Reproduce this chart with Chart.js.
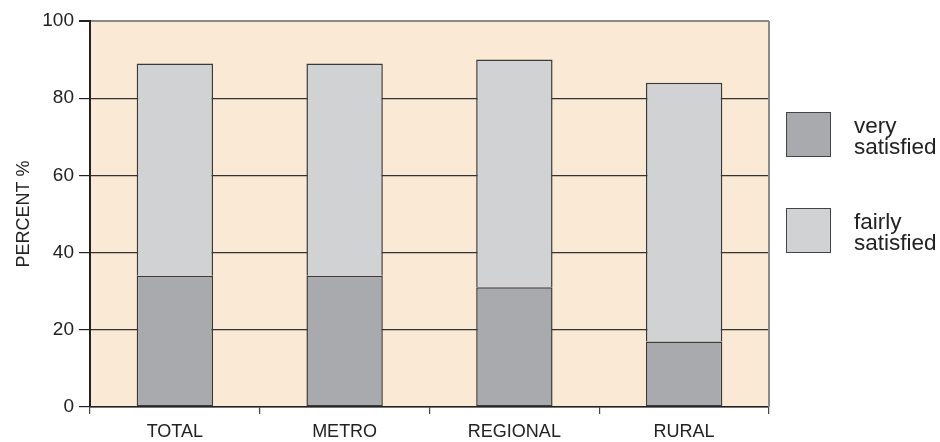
<!DOCTYPE html>
<html>
<head>
<meta charset="utf-8">
<script src="https://cdn.jsdelivr.net/npm/chart.js@4/dist/chart.umd.min.js"></script>
<style>
  html, body { margin: 0; padding: 0; background: #fff; }
  #wrap { position: relative; width: 940px; height: 442px; }
  #legend { position: absolute; left: 786px; top: 112px; font-family: "Liberation Sans", Arial, sans-serif; color: #222; }
  .item { position: absolute; left: 0; width: 160px; }
  .sw { position: absolute; left: 0; top: 0; width: 43px; height: 43px; border: 1.5px solid #444; }
  .txt { position: absolute; left: 68px; top: 3px; font-size: 22.5px; line-height: 21px; white-space: nowrap; }
</style>
</head>
<body>
<div id="wrap">
  <canvas id="chart" width="940" height="442"></canvas>
  <div id="legend"></div>
</div>
<script>
/// Categories along the x axis
const CATEGORIES = ["TOTAL", "METRO", "REGIONAL", "RURAL"];
/// Stacked series (percent)
const VERY_SATISFIED = [34, 34, 31, 17];
const FAIRLY_SATISFIED = [55, 55, 59, 67];
/// Series names, as shown in the legend
const SERIES_NAMES = [["very", "satisfied"], ["fairly", "satisfied"]];
/// Y tick range
const Y_MIN = 0, Y_MAX = 100, Y_STEP = 20;

const DARK = "#a9aaad";
const LIGHT = "#d1d2d4";
const PLOT_BG = "#f9e9d5";
const INK = "#222";

Chart.defaults.font.family = "'Liberation Sans', Arial, sans-serif";
Chart.defaults.color = INK;

// ── Plot background and frame ───────────────────────────────────────
const plotFrame = {
  id: "plotFrame",
  beforeDraw(chart) {
    const a = chart.chartArea, c = chart.ctx;
    c.save();
    c.fillStyle = PLOT_BG;
    c.fillRect(a.left, a.top, a.right - a.left, a.bottom - a.top);
    c.restore();
  },
  afterDraw(chart) {
    const a = chart.chartArea, c = chart.ctx;
    c.save();
    c.strokeStyle = "#8a8a8a";
    c.lineWidth = 2;
    c.beginPath();
    c.moveTo(a.right, a.top);
    c.lineTo(a.right, a.bottom);
    c.stroke();
    c.restore();
  }
};

const datasets = [
  { label: SERIES_NAMES[0].join(" "), data: VERY_SATISFIED, backgroundColor: DARK, borderSkipped: false },
  { label: SERIES_NAMES[1].join(" "), data: FAIRLY_SATISFIED, backgroundColor: LIGHT, borderSkipped: "start" }
].map(d => Object.assign(d, {
  borderColor: "#3a3a3a",
  borderWidth: 1.5,
  barPercentage: 0.45,
  categoryPercentage: 1
}));

new Chart(document.getElementById("chart"), {
  type: "bar",
  data: { labels: CATEGORIES, datasets },
  plugins: [plotFrame],
  options: {
    responsive: false,
    animation: false,
    layout: { padding: { top: 21, right: 171, left: 0, bottom: 0 } },
    plugins: { legend: { display: false }, tooltip: { enabled: false } },
    scales: {
      x: {
        stacked: true,
        afterFit: s => { s.height = 35; },
        grid: { offset: true, drawOnChartArea: false, tickLength: 7, color: "#444", lineWidth: 1.2 },
        border: { color: INK, width: 1.5 },
        ticks: { font: { size: 18 }, color: INK, padding: 7, maxRotation: 0 }
      },
      y: {
        stacked: true,
        min: Y_MIN, max: Y_MAX,
        afterFit: s => { s.width = 90; },
        grid: {
          color: ctx => ctx.tick && ctx.tick.value === Y_MAX ? "#8a8a8a" : "#333",
          lineWidth: ctx => ctx.tick && ctx.tick.value === Y_MAX ? 2 : 1.2,
          tickColor: INK,
          tickLength: 11
        },
        border: { color: INK, width: 2 },
        ticks: { stepSize: Y_STEP, font: { size: 19 }, color: INK, padding: 5 },
        title: { display: true, text: "PERCENT %", font: { size: 18 }, color: INK, padding: { top: 13, bottom: 0 } }
      }
    }
  }
});

// ── HTML legend built from the series ───────────────────────────────
const legend = document.getElementById("legend");
SERIES_NAMES.forEach((lines, i) => {
  const item = document.createElement("div");
  item.className = "item";
  item.style.top = (i * 96) + "px";
  const sw = document.createElement("div");
  sw.className = "sw";
  sw.style.background = datasets[i].backgroundColor;
  const txt = document.createElement("div");
  txt.className = "txt";
  txt.innerHTML = lines.join("<br>");
  item.appendChild(sw);
  item.appendChild(txt);
  legend.appendChild(item);
});
</script>
</body>
</html>
